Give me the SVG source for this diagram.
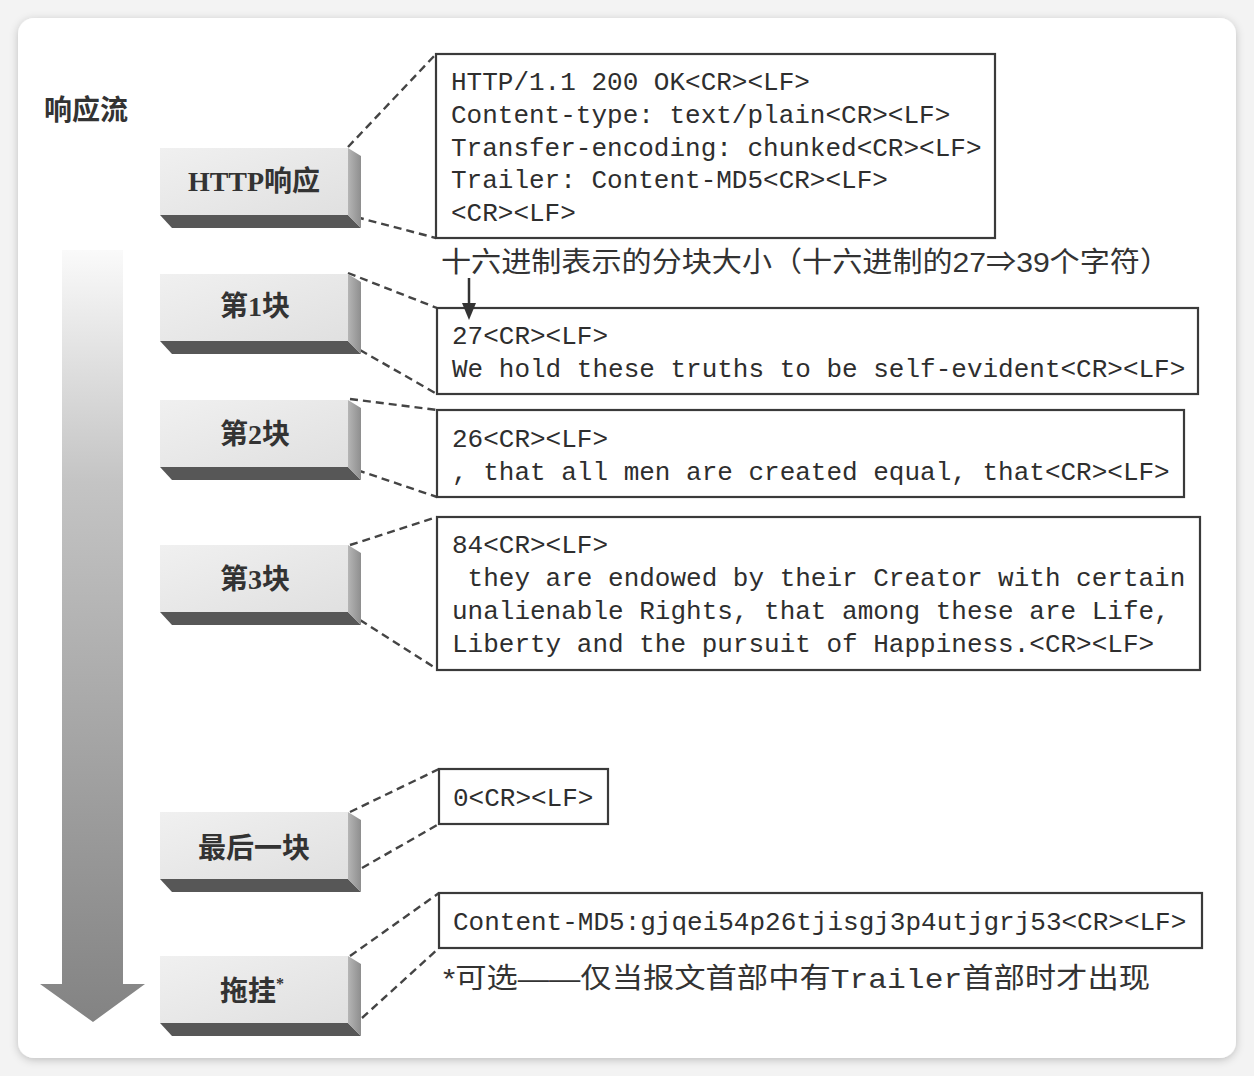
<svg xmlns="http://www.w3.org/2000/svg" width="1254" height="1076" viewBox="0 0 1254 1076">
<defs>
<filter id="sh" x="-5%" y="-5%" width="110%" height="110%"><feDropShadow dx="0" dy="2" stdDeviation="4" flood-color="#000" flood-opacity="0.22"/></filter>
<linearGradient id="flow" x1="0" y1="0" x2="0" y2="1"><stop offset="0" stop-color="#fafafa"/><stop offset="0.3" stop-color="#c4c4c4"/><stop offset="1" stop-color="#838383"/></linearGradient>
<linearGradient id="face" x1="0" y1="0" x2="1" y2="1"><stop offset="0" stop-color="#f0f0f0"/><stop offset="1" stop-color="#e0e0e0"/></linearGradient>
<linearGradient id="side" x1="0" y1="0" x2="1" y2="0"><stop offset="0" stop-color="#b5b5b5"/><stop offset="1" stop-color="#8e8e8e"/></linearGradient>
<symbol id="blk" overflow="visible">
<rect x="0" y="0" width="188" height="67" fill="url(#face)"/>
<polygon points="0,67 188,67 201,80 12,80" fill="#575757"/>
<polygon points="188,0 201,8 201,80 188,67" fill="url(#side)"/>
</symbol>
</defs>
<style>
.box{fill:#fff;stroke:#3a3a3a;stroke-width:2.2}
.code{font-family:"Liberation Mono","DejaVu Sans Mono",monospace;font-size:26px;fill:#2e2e2e}
.lbl{font-family:"Liberation Serif","Noto Sans CJK SC",serif;font-size:28px;font-weight:bold;fill:#333}
.cn{font-family:"Liberation Sans","Noto Sans CJK SC",sans-serif;font-size:28px;fill:#333}
.dash{fill:none;stroke:#444;stroke-width:2.4;stroke-dasharray:8 5}
</style>
<rect width="1254" height="1076" fill="#f3f3f3"/>
<rect x="18" y="18" width="1218" height="1040" rx="16" fill="#fff" filter="url(#sh)"/>

<g id="flow-arrow">
<polygon points="62,250 123,250 123,984 145,984 93,1022 40,984 62,984" fill="url(#flow)"/>
<text x="44" y="120" class="lbl" font-size="27">响应流</text>
</g>

<g id="connectors">
<line class="dash" x1="348" y1="147" x2="436" y2="54"/>
<line class="dash" x1="356" y1="217" x2="436" y2="238"/>
<line class="dash" x1="348" y1="273" x2="437" y2="308"/>
<line class="dash" x1="360" y1="350" x2="437" y2="394"/>
<line class="dash" x1="350" y1="399" x2="437" y2="410"/>
<line class="dash" x1="357" y1="470" x2="437" y2="497"/>
<line class="dash" x1="350" y1="545" x2="437" y2="517"/>
<line class="dash" x1="360" y1="620" x2="437" y2="669"/>
<line class="dash" x1="350" y1="812" x2="439" y2="769"/>
<line class="dash" x1="362" y1="868" x2="439" y2="824"/>
<line class="dash" x1="350" y1="956" x2="439" y2="893"/>
<line class="dash" x1="362" y1="1018" x2="439" y2="948"/>
</g>

<g id="node-http"><use href="#blk" x="160" y="148"/><text x="254" y="191" class="lbl" text-anchor="middle">HTTP响应</text></g>
<g id="node-c1"><use href="#blk" x="160" y="274"/><text x="255" y="316" class="lbl" text-anchor="middle">第1块</text></g>
<g id="node-c2"><use href="#blk" x="160" y="400"/><text x="255" y="444" class="lbl" text-anchor="middle">第2块</text></g>
<g id="node-c3"><use href="#blk" x="160" y="545"/><text x="255" y="589" class="lbl" text-anchor="middle">第3块</text></g>
<g id="node-last"><use href="#blk" x="160" y="812"/><text x="254" y="858" class="lbl" text-anchor="middle">最后一块</text></g>
<g id="node-trailer"><use href="#blk" x="160" y="956"/><text x="252" y="1001" class="lbl" text-anchor="middle">拖挂<tspan font-size="16" dy="-12">*</tspan></text></g>

<g id="box-header">
<rect class="box" x="436" y="54" width="559" height="184"/>
<text class="code" x="451" y="90">HTTP/1.1 200 OK&lt;CR&gt;&lt;LF&gt;</text>
<text class="code" x="451" y="123">Content-type: text/plain&lt;CR&gt;&lt;LF&gt;</text>
<text class="code" x="451" y="156">Transfer-encoding: chunked&lt;CR&gt;&lt;LF&gt;</text>
<text class="code" x="451" y="188">Trailer: Content-MD5&lt;CR&gt;&lt;LF&gt;</text>
<text class="code" x="451" y="221">&lt;CR&gt;&lt;LF&gt;</text>
</g>
<text id="size-note" class="cn" x="441" y="272" textLength="729" lengthAdjust="spacingAndGlyphs">十六进制表示的分块大小（十六进制的27⇒39个字符）</text>

<g id="box-c1">
<rect class="box" x="437" y="308" width="761" height="86"/>
<text class="code" x="452" y="344">27&lt;CR&gt;&lt;LF&gt;</text>
<text class="code" x="452" y="377">We hold these truths to be self-evident&lt;CR&gt;&lt;LF&gt;</text>
</g>
<g id="box-c2">
<rect class="box" x="437" y="410" width="747" height="87"/>
<text class="code" x="452" y="447">26&lt;CR&gt;&lt;LF&gt;</text>
<text class="code" x="452" y="480">, that all men are created equal, that&lt;CR&gt;&lt;LF&gt;</text>
</g>
<g id="box-c3">
<rect class="box" x="437" y="517" width="763" height="153"/>
<text class="code" x="452" y="553">84&lt;CR&gt;&lt;LF&gt;</text>
<text class="code" x="452" y="586" xml:space="preserve"> they are endowed by their Creator with certain</text>
<text class="code" x="452" y="619">unalienable Rights, that among these are Life,</text>
<text class="code" x="452" y="652">Liberty and the pursuit of Happiness.&lt;CR&gt;&lt;LF&gt;</text>
</g>
<g id="box-last">
<rect class="box" x="439" y="769" width="169" height="55"/>
<text class="code" x="453" y="806">0&lt;CR&gt;&lt;LF&gt;</text>
</g>
<g id="box-trailer">
<rect class="box" x="439" y="893" width="763" height="55"/>
<text class="code" x="453" y="930">Content-MD5:gjqei54p26tjisgj3p4utjgrj53&lt;CR&gt;&lt;LF&gt;</text>
</g>
<text id="footnote" class="cn" x="443" y="988" textLength="707" lengthAdjust="spacingAndGlyphs">*可选——仅当报文首部中有<tspan font-family="Liberation Mono,monospace">Trailer</tspan>首部时才出现</text>

<g id="size-arrow">
<line x1="469" y1="278" x2="469" y2="306" stroke="#333" stroke-width="2.5"/>
<polygon points="462,303 476,303 469,320" fill="#333"/>
</g>
</svg>
